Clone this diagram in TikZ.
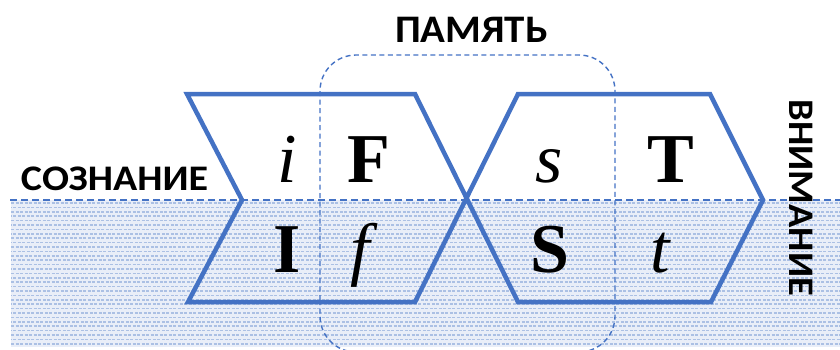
\documentclass[tikz,border=0pt]{standalone}
\usepackage{graphicx}
\usepackage{fontspec}
\setmainfont{Liberation Serif}
\newfontfamily\lblfont{Carlito}
\definecolor{ob}{HTML}{4472C4}
\begin{document}
\begin{tikzpicture}[x=1pt,y=-1pt,
  shapeline/.style={draw=ob, line width=4.5pt, line join=miter, miter limit=4},
  memline/.style={draw=ob, line width=1.4pt, dash pattern=on 5pt off 3.5pt},
  levelline/.style={draw=ob, line width=1.8pt, dash pattern=on 7pt off 4pt},
  hatchrow/.style={draw=ob!45, line width=1.6pt, dash pattern=on 3pt off 1.5pt},
  sym/.style={font=\fontsize{70}{70}\selectfont, inner sep=0pt, anchor=base},
  caplabel/.style={font=\lblfont\bfseries\fontsize{36}{36}\selectfont, inner sep=0pt}]
\useasboundingbox (0,0) rectangle (840,349);
% hatched lower region
\fill[ob!12] (11,200) rectangle (840,347);
\foreach \i in {0,2,...,32} {
  \draw[hatchrow] (11,{203+\i*4.4}) -- (840,{203+\i*4.4});
}
\foreach \i in {1,3,...,31} {
  \draw[hatchrow, dash phase=2.2pt] (11,{203+\i*4.4}) -- (840,{203+\i*4.4});
}
% level line
\draw[levelline] (10,200) -- (840,200);
% memory box
\draw[memline, rounded corners=36pt] (320,300) -- (320,55) -- (615,55) -- (615,300);
\draw[memline, rounded corners=36pt] (320,300) -- (320,352) -- (615,352) -- (615,300);
% figure shapes
\coordinate (a1) at (187,94);
\coordinate (a2) at (242,200);
\coordinate (a3) at (188,302);
\coordinate (a4) at (415,302);
\coordinate (b1) at (518,94);
\coordinate (b2) at (710,94);
\coordinate (b3) at (763,200);
\coordinate (b4) at (711,302);
\coordinate (b5) at (518,302);
\coordinate (a5) at (415,94);
\draw[shapeline] (a1) -- (a2) -- (a3) -- (a4) -- (b1) -- (b2) -- (b3) -- (b4) -- (b5) -- (a5) -- cycle;
% letters
\node[sym] (li) at (287,182) {\itshape i};
\node[sym] (lF) at (369,182) {\bfseries F};
\node[sym] (ls) at (549,182) {\itshape s};
\node[sym] (lT) at (671,182) {\bfseries T};
\node[sym] (lI) at (287,272) {\bfseries I};
\node[sym] (lf) at (360,272) {\itshape f};
\node[sym] (lS) at (550,272) {\bfseries S};
\node[sym] (lt) at (660,272) {\itshape t};
% labels
\node[caplabel, font=\lblfont\bfseries\fontsize{39}{39}\selectfont] (mem) at (471.5,29.5) {\scalebox{1.05}[1]{ПАМЯТЬ}};
\node[caplabel] (con) at (114.5,178.5) {\scalebox{1.11}[1]{СОЗНАНИЕ}};
\node[caplabel, rotate=-90] (att) at (801,198) {\scalebox{1.07}[1]{ВНИМАНИЕ}};
\end{tikzpicture}
\end{document}
